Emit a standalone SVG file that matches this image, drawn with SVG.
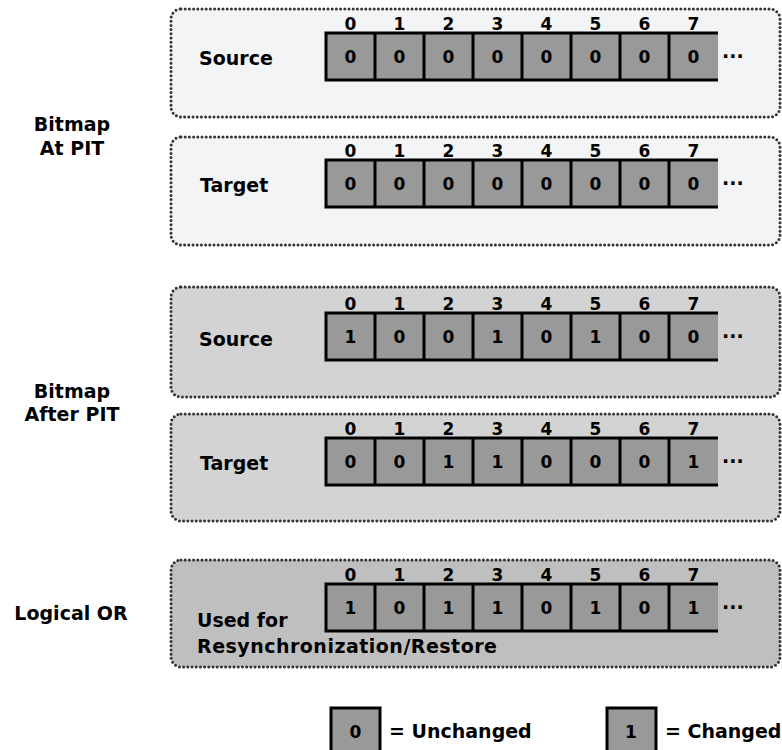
<svg xmlns="http://www.w3.org/2000/svg" width="782" height="750" viewBox="0 0 782 750">
<style>
text{font-family:"DejaVu Sans","Liberation Sans",sans-serif;font-weight:bold;fill:#000}
.lbl{font-size:19px}
.side{font-size:19px;text-anchor:middle}
.idx{font-size:17px;text-anchor:middle}
.val{font-size:17px;text-anchor:middle}
.dots{font-size:19px}
.panel{stroke:#333;stroke-width:3;stroke-dasharray:0 4.2;stroke-linecap:round}
.p1{fill:#f3f4f6}
.p2{fill:#d3d3d3}
.p3{fill:#bfbfbf}
.cellbg{fill:#999}
.grid{fill:none;stroke:#000;stroke-width:3}
</style>
<defs>
<g id="cells">
<rect class="cellbg" x="326" y="0" width="392" height="47"/>
<path class="grid" d="M326,0H718M326,47H718M326,-1.5V48.5M375,0V47M424,0V47M473,0V47M522,0V47M571,0V47M620,0V47M669,0V47"/>
<text class="idx" x="350.5" y="-3">0</text><text class="idx" x="399.5" y="-3">1</text><text class="idx" x="448.5" y="-3">2</text><text class="idx" x="497.5" y="-3">3</text><text class="idx" x="546.5" y="-3">4</text><text class="idx" x="595.5" y="-3">5</text><text class="idx" x="644.5" y="-3">6</text><text class="idx" x="693.5" y="-3">7</text>
<text class="dots" x="722" y="25">...</text>
</g>
</defs>

<g id="side-labels">
<text class="side" x="72" y="131">Bitmap</text>
<text class="side" x="72" y="155">At PIT</text>
<text class="side" x="72" y="398">Bitmap</text>
<text class="side" x="72" y="421">After PIT</text>
<text class="side" x="71" y="620">Logical OR</text>
</g>

<g id="source-at-pit">
<rect class="panel p1" x="171" y="9" width="609" height="108" rx="10"/>
<text class="lbl" x="199" y="65">Source</text>
<use href="#cells" y="33"/>
<g><text class="val" x="350.5" y="62.8">0</text><text class="val" x="399.5" y="62.8">0</text><text class="val" x="448.5" y="62.8">0</text><text class="val" x="497.5" y="62.8">0</text><text class="val" x="546.5" y="62.8">0</text><text class="val" x="595.5" y="62.8">0</text><text class="val" x="644.5" y="62.8">0</text><text class="val" x="693.5" y="62.8">0</text></g>
</g>

<g id="target-at-pit">
<rect class="panel p1" x="171" y="137" width="609" height="108" rx="10"/>
<text class="lbl" x="200" y="192">Target</text>
<use href="#cells" y="160"/>
<g><text class="val" x="350.5" y="189.8">0</text><text class="val" x="399.5" y="189.8">0</text><text class="val" x="448.5" y="189.8">0</text><text class="val" x="497.5" y="189.8">0</text><text class="val" x="546.5" y="189.8">0</text><text class="val" x="595.5" y="189.8">0</text><text class="val" x="644.5" y="189.8">0</text><text class="val" x="693.5" y="189.8">0</text></g>
</g>

<g id="source-after-pit">
<rect class="panel p2" x="171" y="287" width="609" height="110" rx="10"/>
<text class="lbl" x="199" y="346">Source</text>
<use href="#cells" y="313"/>
<g><text class="val" x="350.5" y="342.8">1</text><text class="val" x="399.5" y="342.8">0</text><text class="val" x="448.5" y="342.8">0</text><text class="val" x="497.5" y="342.8">1</text><text class="val" x="546.5" y="342.8">0</text><text class="val" x="595.5" y="342.8">1</text><text class="val" x="644.5" y="342.8">0</text><text class="val" x="693.5" y="342.8">0</text></g>
</g>

<g id="target-after-pit">
<rect class="panel p2" x="171" y="414" width="609" height="107" rx="10"/>
<text class="lbl" x="200" y="470">Target</text>
<use href="#cells" y="438"/>
<g><text class="val" x="350.5" y="467.8">0</text><text class="val" x="399.5" y="467.8">0</text><text class="val" x="448.5" y="467.8">1</text><text class="val" x="497.5" y="467.8">1</text><text class="val" x="546.5" y="467.8">0</text><text class="val" x="595.5" y="467.8">0</text><text class="val" x="644.5" y="467.8">0</text><text class="val" x="693.5" y="467.8">1</text></g>
</g>

<g id="logical-or">
<rect class="panel p3" x="171" y="560" width="609" height="107" rx="10"/>
<text class="lbl" x="197" y="627">Used for</text>
<text class="lbl" x="197" y="653" textLength="300" lengthAdjust="spacing">Resynchronization/Restore</text>
<use href="#cells" y="584"/>
<g><text class="val" x="350.5" y="613.8">1</text><text class="val" x="399.5" y="613.8">0</text><text class="val" x="448.5" y="613.8">1</text><text class="val" x="497.5" y="613.8">1</text><text class="val" x="546.5" y="613.8">0</text><text class="val" x="595.5" y="613.8">1</text><text class="val" x="644.5" y="613.8">0</text><text class="val" x="693.5" y="613.8">1</text></g>
</g>

<g id="legend-unchanged">
<rect class="cellbg" x="331" y="708" width="49" height="52" stroke="#000" stroke-width="3"/>
<text class="val" x="355.5" y="737.5">0</text>
<text class="lbl" x="389" y="738">= Unchanged</text>
</g>

<g id="legend-changed">
<rect class="cellbg" x="607" y="708" width="49" height="52" stroke="#000" stroke-width="3"/>
<text class="val" x="631" y="737.5">1</text>
<text class="lbl" x="665" y="738">= Changed</text>
</g>
</svg>
